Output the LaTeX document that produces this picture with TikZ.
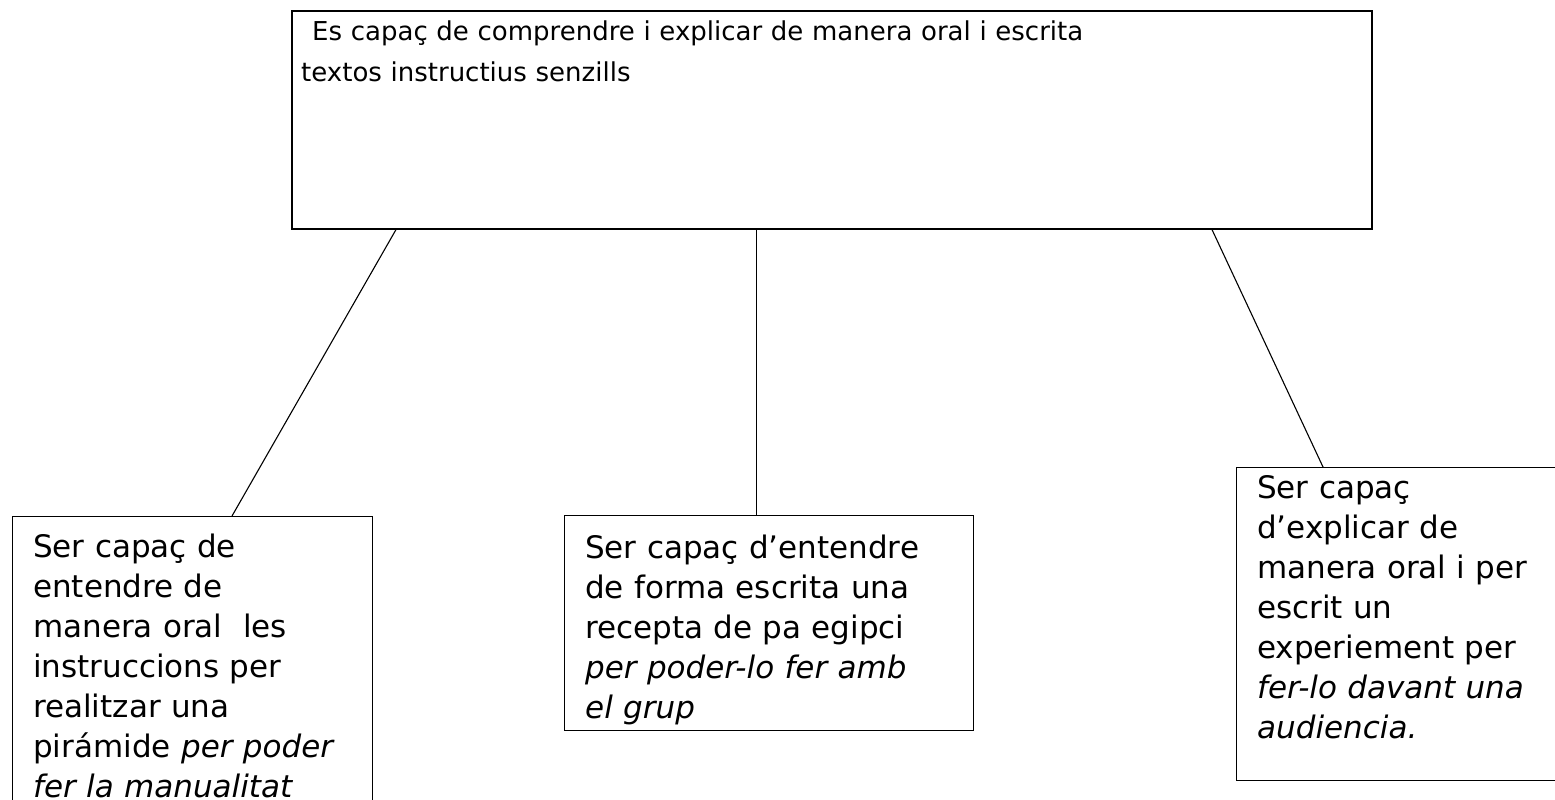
\documentclass[tikz,border=0pt]{standalone}
\usepackage{fontspec}
\setmainfont{DejaVu Sans}
\usetikzlibrary{calc}
\tikzset{
  boxnode/.style={draw, line width=1.3pt, rectangle, inner sep=0pt, anchor=north west},
  txt/.style={anchor=north west, inner sep=0pt, align=left, text width=#1, font=\fontsize{31}{40}\selectfont},
  txt/.default=330pt,
  toptxt/.style={anchor=north west, inner sep=0pt, align=left, text width=1060pt, font=\fontsize{26}{41}\selectfont},
  link/.style={line width=1.1pt}
}
\begin{document}
\begin{tikzpicture}[x=1pt,y=-1pt]
\useasboundingbox (0,0) rectangle (1555,800);
\clip (0,0) rectangle (1555,800);
% boxes
\node[boxnode, line width=1.6pt, minimum width=1080pt, minimum height=218pt] (top) at (291,10) {};
\node[boxnode, minimum width=360pt, minimum height=320pt] (lb) at (12,516) {};
\node[boxnode, minimum width=409pt, minimum height=215pt] (mb) at (564,515) {};
\node[boxnode, minimum width=330pt, minimum height=313pt] (rb) at (1236,467) {};
% texts
\node[toptxt] (ttop) at (301,11.8) {\strut\hspace*{11pt}Es capaç de comprendre i explicar de manera oral i escrita\\textos instructius senzills};
\node[txt] (tlb) at (33,529) {\strut Ser capaç de\\entendre de\\manera oral\ \ les\\instruccions per\\realitzar una\\pirámide \textit{per poder}\\\textit{fer la manualitat}};
\node[txt=400pt] (tmb) at (585,530) {\strut Ser capaç d’entendre\\de forma escrita una\\recepta de pa egipci\\\textit{per poder-lo fer amb}\\\textit{el grup}};
\node[txt=320pt] (trb) at (1257,470) {\strut Ser capaç\\d’explicar de\\manera oral i per\\escrit un\\experiement per\\\textit{fer-lo davant una}\\\textit{audiencia.}};
% connectors
\draw[link] ($(top.south west)+(105,0)$) -- ($(lb.north west)+(220,0)$);
\draw[link] ($(top.south west)+(465.5,0)$) -- ($(mb.north west)+(192.5,0)$);
\draw[link] ($(top.south west)+(921,0)$) -- ($(rb.north west)+(87,0)$);
\end{tikzpicture}
\end{document}
